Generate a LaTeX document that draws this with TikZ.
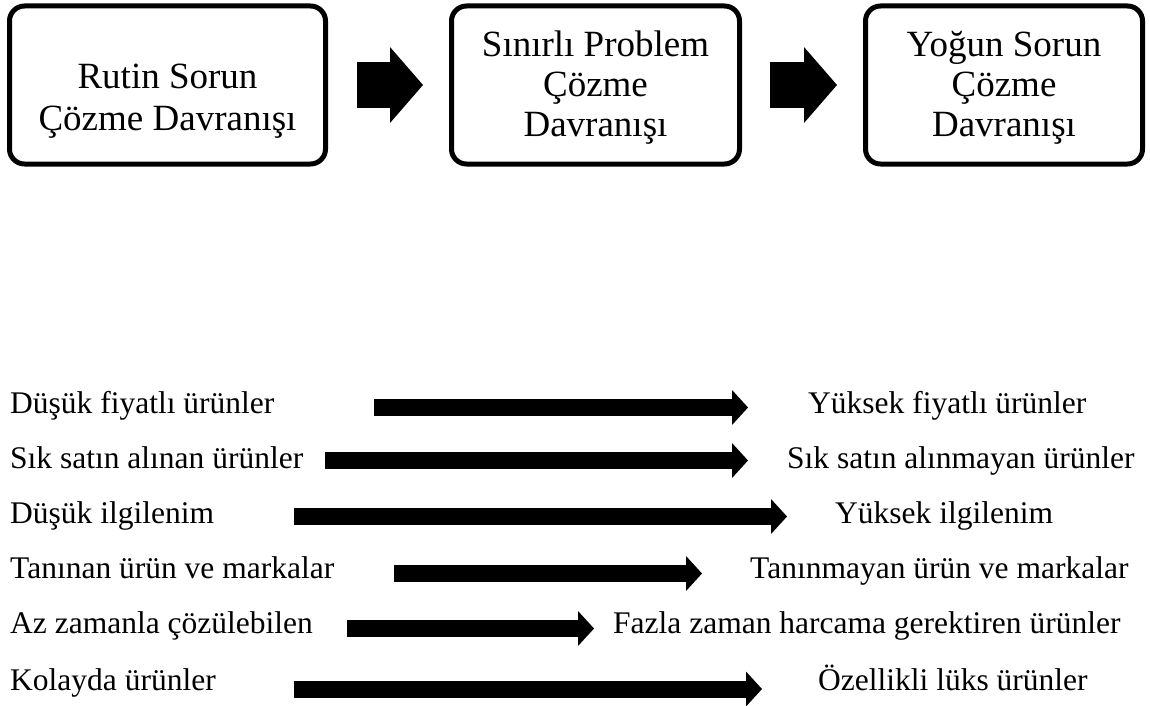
\documentclass[tikz,border=0pt]{standalone}
\usepackage{fontspec}
\setmainfont{Liberation Serif}
\usetikzlibrary{arrows.meta}
\tikzset{
	behaviour/.style={draw, line width=5pt, rounded corners=15pt, align=center,
			minimum height=158pt, inner sep=0pt, font=\fontsize{37}{40}\selectfont},
	item/.style={inner sep=0pt, anchor=base west, font=\fontsize{31.5}{36}\selectfont},
	bigarrow/.style={line width=46pt, -{Triangle[length=33pt, width=76pt, line width=0pt]}},
	thinarrow/.style={line width=17pt, -{Triangle[length=16pt, width=35pt, line width=0pt]}}
}

\begin{document}
\begin{tikzpicture}[x=1pt, y=-1pt]
			\useasboundingbox (0,0) rectangle (1150,706);

			\node [behaviour, minimum width=316pt, font=\fontsize{37}{42}\selectfont] (rutin) at (167.5,85)
				{\rule{0pt}{56pt}Rutin Sorun\\Çözme Davranışı};
			\node [behaviour, minimum width=288pt] (sinirli) at (595.5,85)
				{\rule{0pt}{31pt}Sınırlı Problem\\Çözme\\Davranışı};
			\node [behaviour, minimum width=277pt] (yogun) at (1004,85)
				{\rule{0pt}{30pt}Yoğun Sorun\\Çözme\\Davranışı};

			\draw [bigarrow, shorten <=29pt, shorten >=26pt] (rutin.east) -- (sinirli.west);
			\draw [bigarrow, shorten <=28pt, shorten >=26pt] (sinirli.east) -- (yogun.west);

			\node [item] (dfiyat) at (10,413) {Düşük fiyatlı ürünler};
			\node [item] (yfiyat) at (808,413) {Yüksek fiyatlı ürünler};
			\coordinate (a1) at (374,407.5);
			\coordinate (b1) at (748,407.5);
			\draw [thinarrow] (a1) -- (b1);

			\node [item] (sik) at (10,468) {Sık satın alınan ürünler};
			\node [item] (seyrek) at (787,468) {Sık satın alınmayan ürünler};
			\coordinate (a2) at (325,460.5);
			\coordinate (b2) at (748,460.5);
			\draw [thinarrow] (a2) -- (b2);

			\node [item] (dilgi) at (10,523) {Düşük ilgilenim};
			\node [item] (yilgi) at (835,523) {Yüksek ilgilenim};
			\coordinate (a3) at (294,516.5);
			\coordinate (b3) at (787,516.5);
			\draw [thinarrow] (a3) -- (b3);

			\node [item] (taninan) at (10,578) {Tanınan ürün ve markalar};
			\node [item] (taninmayan) at (750,578) {Tanınmayan ürün ve markalar};
			\coordinate (a4) at (394,573.5);
			\coordinate (b4) at (702,573.5);
			\draw [thinarrow] (a4) -- (b4);

			\node [item] (az) at (10,633) {Az zamanla çözülebilen};
			\node [item] (fazla) at (613,633) {Fazla zaman harcama gerektiren ürünler};
			\coordinate (a5) at (347,628.5);
			\coordinate (b5) at (594,628.5);
			\draw [thinarrow] (a5) -- (b5);

			\node [item] (kolay) at (10,690) {Kolayda ürünler};
			\node [item] (luks) at (818,690) {Özellikli lüks ürünler};
			\coordinate (a6) at (294,689);
			\coordinate (b6) at (762,689);
			\draw [thinarrow] (a6) -- (b6);
		\end{tikzpicture}
\end{document}
